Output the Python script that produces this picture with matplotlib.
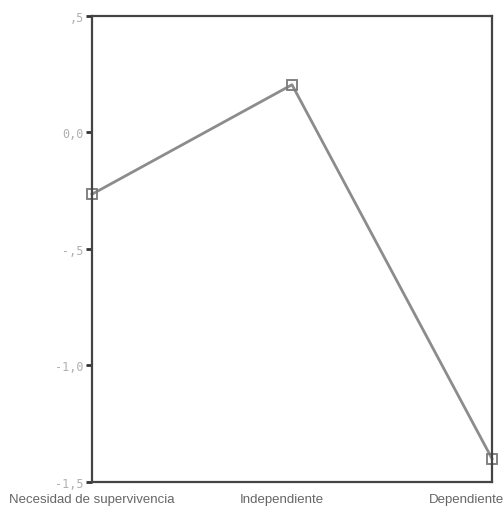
import matplotlib.pyplot as plt

categories = ['Necesidad de supervivencia', 'Independiente', 'Dependiente']
values = [-0.265, 0.205, -1.40]
ytick_values = [0.5, 0.0, -0.5, -1.0, -1.5]
ytick_labels = [',5', '0,0', '-,5', '-1,0', '-1,5']

fig = plt.figure(figsize=(5.04, 5.10), dpi=100)
ax = fig.add_axes([0.1825, 0.053, 0.7937, 0.9137])

ax.plot(range(len(categories)), values, color='#8c8c8c', lw=2,
        marker='s', markersize=7, markerfacecolor='none',
        markeredgecolor='#7a7a7a', markeredgewidth=1.3, clip_on=False)

ax.set_xlim(0, len(categories) - 1)
ax.set_ylim(-1.5, 0.5)
ax.set_yticks(ytick_values)
ax.set_yticklabels(ytick_labels, family='DejaVu Sans Mono', fontsize=8.5,
                   color='#b0b0b0')
ax.set_xticks([])

# category labels, nudged like in the scan
offsets = [0, -10, 12]
aligns = ['center', 'center', 'right']
for i, (cat, dx, ha) in enumerate(zip(categories, offsets, aligns)):
    ax.annotate(cat, xy=(i, 0), xycoords=('data', 'axes fraction'),
                xytext=(dx * 0.72, -8), textcoords='offset points',
                ha=ha, va='top', family='Liberation Sans', fontsize=9.5,
                color='#666666', annotation_clip=False)

ax.tick_params(axis='y', length=4, width=2, color='#333333', pad=2)

for s in ax.spines.values():
    s.set_color('#444444')
    s.set_linewidth(1.6)

fig.savefig('out.png', dpi=100)
